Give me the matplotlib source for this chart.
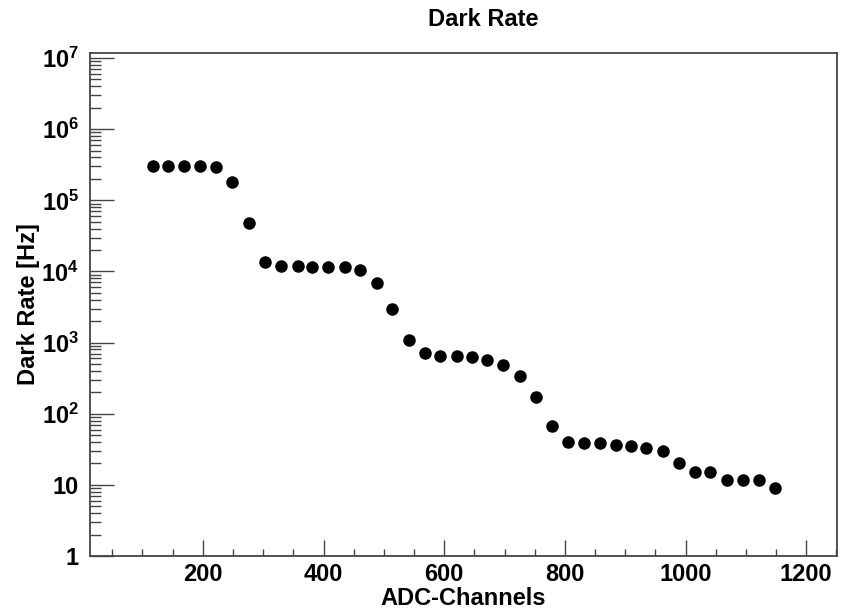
import math
import matplotlib
matplotlib.use("Agg")
import matplotlib.pyplot as plt
from matplotlib.ticker import FixedLocator, MultipleLocator, FuncFormatter, NullFormatter

plt.rcParams["font.family"] = ["Liberation Sans", "DejaVu Sans"]
plt.rcParams["font.weight"] = "bold"
plt.rcParams["mathtext.fontset"] = "custom"
plt.rcParams["mathtext.rm"] = "Liberation Sans:bold"
plt.rcParams["mathtext.bf"] = "Liberation Sans:bold"

# ADC threshold (channels) and measured dark rate (Hz)
adc_channels = [117, 142, 168, 195, 222, 248, 276, 303, 330, 357,
                381, 408, 435, 461, 488, 513, 541, 568, 593, 621,
                646, 671, 698, 726, 752, 778, 805, 831, 858, 884,
                909, 935, 962, 989, 1016, 1041, 1068, 1095, 1122, 1149]
dark_rate = [3.0e5, 3.0e5, 3.0e5, 3.0e5, 2.9e5, 1.8e5, 4.75e4, 1.34e4, 1.19e4, 1.19e4,
             1.14e4, 1.14e4, 1.14e4, 1.05e4, 6.95e3, 2.94e3, 1.09e3, 707, 648, 648,
             621, 569, 480, 339, 170, 68, 40.4, 39.1, 39.1, 36.3,
             35.5, 32.6, 29.9, 20.5, 15.2, 15.2, 11.7, 11.7, 11.7, 8.95]

x_ticks = [200, 400, 600, 800, 1000, 1200]
y_ticks = [1, 10, 1e2, 1e3, 1e4, 1e5, 1e6, 1e7]

x_limits = (13, 1251)
y_limits = (1, 10 ** 7.071)

fig = plt.figure(figsize=(8.43, 6.09), dpi=100)
ax = fig.add_axes([90 / 843, 53 / 609, 747 / 843, 503 / 609])

ax.plot(adc_channels, dark_rate, linestyle="none", marker="o",
        markersize=8, color="black")

ax.set_yscale("log")
ax.set_xlim(*x_limits)
ax.set_ylim(*y_limits)

axis_color = "#444444"
for s in ax.spines.values():
    s.set_color(axis_color)
    s.set_linewidth(1.3)

ax.xaxis.set_major_locator(FixedLocator(x_ticks))
ax.xaxis.set_minor_locator(MultipleLocator(50))
ax.yaxis.set_major_locator(FixedLocator(y_ticks))
minor_y = [m * 10 ** d for d in range(0, 7) for m in range(2, 10)]
ax.yaxis.set_minor_locator(FixedLocator(minor_y))
ax.yaxis.set_minor_formatter(NullFormatter())


def log_label(v, pos):
    e = int(round(math.log10(v)))
    if e == 0:
        return "1"
    if e == 1:
        return "10"
    return r"$\mathregular{10^{%d}}$" % e


ax.yaxis.set_major_formatter(FuncFormatter(log_label))

ax.tick_params(axis="both", which="both", direction="in", color=axis_color,
               width=1.0, top=False, right=False)
ax.tick_params(axis="y", which="major", length=17, labelsize=17, pad=8)
ax.tick_params(axis="y", which="minor", length=8)
ax.tick_params(axis="x", which="major", length=11.5, labelsize=17, pad=5)
ax.tick_params(axis="x", which="minor", length=5)
for lbl in ax.get_xticklabels() + ax.get_yticklabels():
    lbl.set_fontweight("bold")

ax.set_xlabel("ADC-Channels", fontsize=17, fontweight="bold", labelpad=1)
ax.set_ylabel("Dark Rate [Hz]", fontsize=17, fontweight="bold", labelpad=1)
fig.text(483 / 843, 1 - 19 / 609, "Dark Rate", ha="center", va="center",
         fontsize=17, fontweight="bold")

fig.savefig("out.png", dpi=100)
